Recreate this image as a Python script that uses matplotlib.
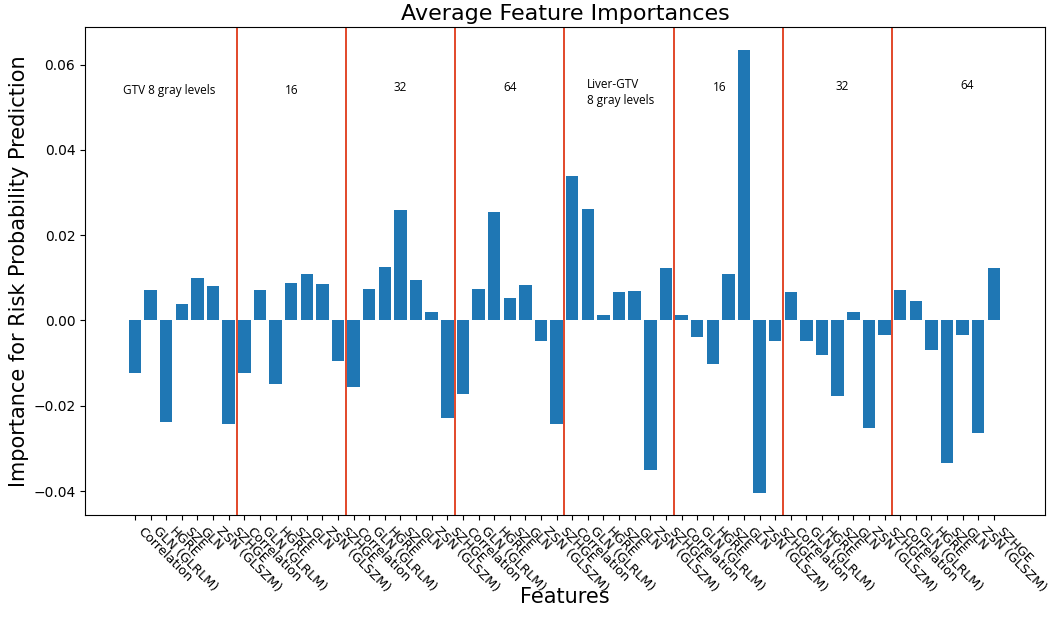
import numpy as np
import matplotlib
matplotlib.use("Agg")
import matplotlib.pyplot as plt

features = ["Correlation", "GLN (GLRLM)", "HGRE", "SZE", "GLN", "ZSN (GLSZM)", "SZHGE"]
group_names = ["GTV 8 gray levels", "16", "32", "64",
               "Liver-GTV\n8 gray levels", "16", "32", "64"]

# importances, one list per group (7 features each)
gtv_8 = [-0.0123, 0.0071, -0.0238, 0.0039, 0.0099, 0.0081, -0.0242]
gtv_16 = [-0.0123, 0.0071, -0.0148, 0.0088, 0.0108, 0.0086, -0.0096]
gtv_32 = [-0.0155, 0.0074, 0.0126, 0.0259, 0.0094, 0.0020, -0.0228]
gtv_64 = [-0.0173, 0.0074, 0.0255, 0.0052, 0.0084, -0.0049, -0.0242]
liver_8 = [0.0338, 0.0262, 0.0012, 0.0066, 0.0069, -0.0350, 0.0124]
liver_16 = [0.0012, -0.0038, -0.0102, 0.0108, 0.0635, -0.0404, -0.0049]
liver_32 = [0.0066, -0.0049, -0.0082, -0.0176, 0.0019, -0.0252, -0.0035]
liver_64 = [0.0071, 0.0046, -0.0070, -0.0335, -0.0035, -0.0265, 0.0124]

groups = [gtv_8, gtv_16, gtv_32, gtv_64, liver_8, liver_16, liver_32, liver_64]
values = np.concatenate(groups)
labels = features * len(groups)
n_feat = len(features)
x = np.arange(len(values))

fig = plt.figure(figsize=(10.5, 6.28), dpi=100)
ax = fig.add_axes([0.081, 0.180, 0.914, 0.777])

ax.bar(x, values, width=0.8, color="#1f77b4")

# separators between groups
for k in range(1, len(groups)):
    ax.axvline(k * n_feat - 0.5, color="#e2482a", lw=1.4)

# group annotations
label_x = [2.18, 10.05, 16.97, 24.0, 28.94, 37.45, 45.3, 53.3]
label_y = [0.054, 0.054, 0.0545, 0.0545, 0.0535, 0.0545, 0.0548, 0.0552]
for name, lx, ly in zip(group_names, label_x, label_y):
    ha = "left" if "\n" in name else "center"
    ax.text(lx, ly, name, ha=ha, va="center", fontsize=8.5,
            family="Open Sans", linespacing=1.3)

ax.set_xticks(x)
ax.set_xticklabels(labels, rotation=-45, ha="left", fontsize=9.3)
ax.set_yticks([-0.04, -0.02, 0.0, 0.02, 0.04, 0.06])
ax.set_yticklabels(["\u22120.04", "\u22120.02", "0.00", "0.02", "0.04", "0.06"], fontsize=10)
ax.set_xlim(-3.2, 58.26)
ax.set_ylim(-0.0456, 0.0688)

ax.set_title("Average Feature Importances", fontsize=16, pad=5)
ax.set_xlabel("Features", fontsize=15, va="center")
ax.xaxis.set_label_coords(0.5, -0.168)
ax.set_ylabel("Importance for Risk Probability Prediction", fontsize=15, va="center")
ax.yaxis.set_label_coords(-0.069, 0.5)

fig.savefig("out.png", dpi=100)
